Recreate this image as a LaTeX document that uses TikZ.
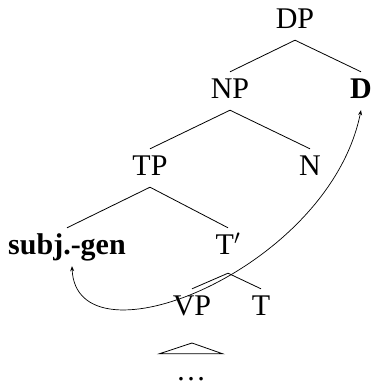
\documentclass[tikz,border=0pt]{standalone}
\usepackage{fontspec}
\setmainfont{Liberation Serif}
\usetikzlibrary{arrows.meta}
\tikzset{
  cat/.style={anchor=base,inner xsep=1pt,inner ysep=6pt,text height=20pt,text depth=6pt,font=\fontsize{30}{32}\selectfont},
  branch/.style={line width=0.8pt},
  move/.style={line width=0.7pt,{Stealth[length=5pt,width=4pt]}-{Stealth[length=5pt,width=4pt]}}
}
\begin{document}
\begin{tikzpicture}[x={(1pt,0)},y={(0,-1pt)}]
\useasboundingbox (0,0) rectangle (374,388);
\node[cat] (DP) at (295,28) {DP};
\node[cat] (NP) at (230,98) {NP};
\node[cat] (D) at (361,98) {\textbf{D}};
\node[cat] (TP) at (150,175) {TP};
\node[cat] (N) at (310,175) {N};
\node[cat] (subj) at (67,254) {\textbf{subj.-gen}};
\node[cat] (Tbar) at (228,254) {T$'$};
\node[cat] (VP) at (192,315) {VP};
\node[cat] (T) at (261,315) {T};
\node[cat,minimum width=63pt] (dots) at (191,380) {\dots};
\coordinate (roof) at (192,343);
\draw[branch] (DP.south) -- (NP.north);
\draw[branch] (DP.south) -- (D.north);
\draw[branch] (NP.south) -- (TP.north);
\draw[branch] (NP.south) -- (N.north);
\draw[branch] (TP.south) -- (subj.north);
\draw[branch] (TP.south) -- (Tbar.north);
\draw[branch] ([yshift=-7pt]Tbar.south) -- (VP.north);
\draw[branch] ([yshift=-7pt]Tbar.south) -- (T.north);
\draw[branch] (roof) -- (dots.north west) -- (dots.north east) -- cycle;
\draw[move] ([xshift=5pt]subj.south) .. controls +(4,104) and +(-32,160) .. (D.south);
\end{tikzpicture}
\end{document}
